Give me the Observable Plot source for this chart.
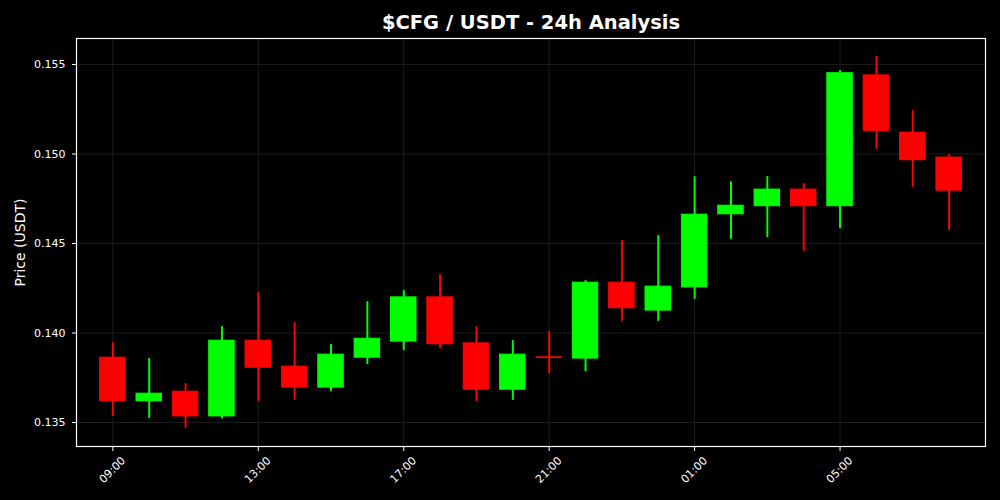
<!DOCTYPE html>
<html>
<head>
<meta charset="utf-8">
<script src="https://cdn.jsdelivr.net/npm/d3@7"></script>
<script src="https://cdn.jsdelivr.net/npm/@observablehq/plot@0.6"></script>
<style>
  html, body { margin: 0; padding: 0; background: #000; }
  #chart { width: 1000px; height: 500px; }
  svg { display: block; }
</style>
</head>
<body>
<div id="chart"></div>
<script>
// ---- data (hourly candles, UTC) ----
const times = [
  "2024-01-01T09:00Z","2024-01-01T10:00Z","2024-01-01T11:00Z","2024-01-01T12:00Z",
  "2024-01-01T13:00Z","2024-01-01T14:00Z","2024-01-01T15:00Z","2024-01-01T16:00Z",
  "2024-01-01T17:00Z","2024-01-01T18:00Z","2024-01-01T19:00Z","2024-01-01T20:00Z",
  "2024-01-01T21:00Z","2024-01-01T22:00Z","2024-01-01T23:00Z","2024-01-02T00:00Z",
  "2024-01-02T01:00Z","2024-01-02T02:00Z","2024-01-02T03:00Z","2024-01-02T04:00Z",
  "2024-01-02T05:00Z","2024-01-02T06:00Z","2024-01-02T07:00Z","2024-01-02T08:00Z"
];
const open  = [0.13862,0.13618,0.13672,0.13534,0.13957,0.13812,0.13695,0.13862,
               0.13952,0.14199,0.13942,0.13683,0.13864,0.13857,0.14281,0.14125,
               0.14255,0.14663,0.14708,0.14801,0.14708,0.15439,0.15119,0.14980];
const high  = [0.13946,0.13857,0.13717,0.14035,0.14225,0.14058,0.13935,0.14175,
               0.14237,0.14326,0.14035,0.13957,0.14007,0.14292,0.14516,0.14544,
               0.14873,0.14844,0.14873,0.14834,0.15466,0.15544,0.15242,0.14996];
const low   = [0.13534,0.13523,0.13467,0.13520,0.13618,0.13624,0.13674,0.13823,
               0.13901,0.13912,0.13618,0.13624,0.13773,0.13784,0.14065,0.14065,
               0.14188,0.14523,0.14533,0.14456,0.14583,0.15026,0.14814,0.14572];
const close = [0.13618,0.13661,0.13534,0.13957,0.13806,0.13695,0.13879,0.13968,
               0.14199,0.13937,0.13683,0.13879,0.13860,0.14281,0.14138,0.14259,
               0.14661,0.14711,0.14801,0.14708,0.15451,0.15127,0.14965,0.14795];

const yTicks = [0.135, 0.140, 0.145, 0.150, 0.155];
const xTickTimes = ["2024-01-01T09:00Z","2024-01-01T13:00Z","2024-01-01T17:00Z",
                    "2024-01-01T21:00Z","2024-01-02T01:00Z","2024-01-02T05:00Z"];
const xTickLabels = ["09:00","13:00","17:00","21:00","01:00","05:00"];

const titleText = "$CFG / USDT - 24h Analysis";
const yLabel = "Price (USDT)";

// ---- build table ----
const UP = "#00ff00", DOWN = "#ff0000";
const candles = times.map((t, i) => ({
  t: new Date(t), o: open[i], h: high[i], l: low[i], c: close[i],
  color: close[i] >= open[i] ? UP : DOWN
}));
const xTicks = xTickTimes.map(d => new Date(d));
const tickLabel = new Map(xTicks.map((d, i) => [+d, xTickLabels[i]]));
const half = 21; // minutes half-width of candle body

const chart = Plot.plot({
  width: 1000,
  height: 500,
  marginLeft: 76,
  marginRight: 15,
  marginTop: 38,
  marginBottom: 54,
  style: {background: "#000", color: "#fff", fontFamily: "DejaVu Sans, sans-serif", fontSize: "11px"},
  x: {type: "utc", domain: [new Date("2024-01-01T08:00Z"), new Date("2024-01-02T09:00Z")]},
  y: {domain: [0.13366, 0.15645]},
  marks: [
    Plot.gridY(yTicks, {stroke: "#1c1c1c", strokeOpacity: 1}),
    Plot.gridX(xTicks, {stroke: "#1c1c1c", strokeOpacity: 1}),
    Plot.ruleX(candles, {x: "t", y1: "l", y2: "h", stroke: "color", strokeWidth: 2}),
    Plot.rectY(candles, {
      x1: d => d3.utcMinute.offset(d.t, -half),
      x2: d => d3.utcMinute.offset(d.t, half),
      y1: "o", y2: "c", fill: "color", stroke: "color", strokeWidth: 1
    }),
    Plot.frame({stroke: "#fff", strokeWidth: 1.2}),
    Plot.axisY({ticks: yTicks, tickFormat: ".3f", tickSize: 4, tickPadding: 7, label: null, stroke: "#fff", fill: "#fff"}),
    Plot.axisX({ticks: xTicks, tickFormat: () => "", tickSize: 5, label: null, stroke: "#fff"}),
    Plot.text(xTicks, {x: d => d, text: d => tickLabel.get(+d), frameAnchor: "bottom", dx: 2, dy: 26, rotate: -45, fill: "#fff", fontSize: 11}),
    Plot.text([yLabel], {frameAnchor: "left", textAnchor: "middle", lineAnchor: "middle", dx: -56, rotate: -90, fill: "#fff", fontSize: 14}),
    Plot.text([titleText], {frameAnchor: "top", dy: -23, fill: "#fff", fontSize: 19.5, fontWeight: "bold"})
  ]
});
document.getElementById("chart").appendChild(chart);
</script>
</body>
</html>
